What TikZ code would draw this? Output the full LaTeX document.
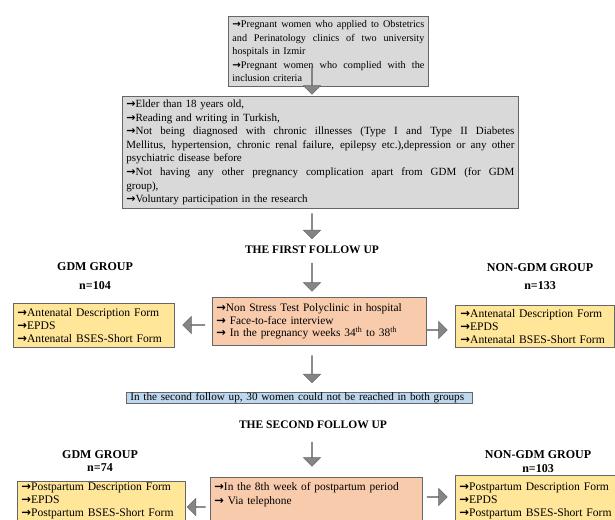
\documentclass[tikz,border=0pt]{standalone}
\usepackage{fontspec}
\setmainfont{Liberation Serif}
\newfontfamily\arrfont{DejaVu Sans}
\usetikzlibrary{shapes.arrows}
\definecolor{gbox}{HTML}{D9D9D9}
\definecolor{obox}{HTML}{F8CBAD}
\definecolor{ybox}{HTML}{FFE699}
\definecolor{bbox}{HTML}{BDD7EE}
\definecolor{bord}{HTML}{666666}
\definecolor{arrfill}{HTML}{858585}
\newcommand\ar{{\arrfont\bfseries →}}
\newcommand\jl[2]{\makebox[#1][s]{\spaceskip=0.25em plus 3em minus 0.05em\relax #2}}
\begin{document}
\begin{tikzpicture}[x=1pt,y=-1pt,
  box/.style={draw=bord, line width=0.8pt, anchor=north west, inner xsep=4pt, inner ysep=2pt, align=left},
  fsmall/.style={font=\fontsize{10.2}{13.5}\selectfont},
  fmid/.style={font=\fontsize{11}{13.6}\selectfont},
  fbig/.style={font=\fontsize{11.2}{13}\selectfont},
  fyel/.style={font=\fontsize{11.6}{13}\selectfont},
  head/.style={font=\fontsize{11.5}{13}\bfseries\selectfont, inner sep=0pt},
  grp/.style={font=\fontsize{12}{13}\bfseries\selectfont, inner sep=0pt},
  darr/.style={single arrow, draw=bord, line width=0.5pt, fill=arrfill, minimum width=17pt, single arrow head extend=4.5pt, inner sep=0pt, shape border rotate=270, minimum height=#1},
  harr/.style={single arrow, draw=bord, line width=0.5pt, fill=arrfill, minimum width=17pt, single arrow head extend=4.5pt, inner sep=0pt, minimum height=#1},
]
\clip (0,0) rectangle (615,519);
\fill[white] (0,0) rectangle (615,519);

% top boxes
\node[box, fill=gbox, fsmall, text width=192pt, minimum height=70pt] (b1) at (228,16)
{\jl{192pt}{\ar Pregnant women who applied to Obstetrics}\\
 \jl{192pt}{and Perinatology clinics of two university}\\
 hospitals in Izmir\\
 \jl{192pt}{\ar Pregnant women who complied with the}\\
 inclusion criteria};

\node[box, fill=gbox, fmid, text width=388pt, minimum height=112pt] (b2) at (122,96)
{\ar Elder than 18 years old,\\
 \ar Reading and writing in Turkish,\\
 \jl{388pt}{\ar Not being diagnosed with chronic illnesses (Type I and Type II Diabetes}\\
 \jl{388pt}{Mellitus, hypertension, chronic renal failure, epilepsy etc.),depression or any other}\\
 psychiatric disease before\\
 \jl{388pt}{\ar Not having any other pregnancy complication apart from GDM (for GDM}\\
 group),\\
 \ar Voluntary participation in the research};

\node[darr=26pt] (a1) at (312,81) {};
\node[darr=25pt] (a2) at (312,226) {};
\node[head] (h1) at (312,250) {THE FIRST FOLLOW UP};
\node[darr=28pt] (a3) at (312,277) {};

% first follow up
\node[grp] (g1) at (95,267) {GDM GROUP};
\node[grp] (n1) at (95,286) {n=104};
\node[grp] (g2) at (540,268) {NON-GDM GROUP};
\node[grp] (n2) at (540,286) {n=133};

\node[box, fill=obox, font=\fontsize{11.4}{12.5}\selectfont, text width=206pt, minimum height=48pt] (o1) at (212,297)
{\ar Non Stress Test Polyclinic in hospital\\
 \ar{} Face-to-face interview\\
 \ar{} In the pregnancy weeks 34\textsuperscript{th} to 38\textsuperscript{th}};

\node[box, fill=ybox, fyel, text width=153pt, minimum height=44pt] (y1) at (13,303)
{\ar Antenatal Description Form\\ \ar EPDS\\ \ar Antenatal BSES-Short Form};
\node[box, fill=ybox, fyel, text width=149pt, inner xsep=5pt, minimum height=42pt] (y2) at (455,305)
{\ar Antenatal Description Form\\ \ar EPDS\\ \ar Antenatal BSES-Short Form};

\node[harr=22pt, shape border rotate=180] (l1) at (194,325) {};
\node[harr=20pt] (r1) at (437,330) {};

\node[darr=27pt] (a4) at (312,369) {};

\node[box, fill=bbox, fbig, text width=338pt, inner ysep=0.5pt] (bl) at (126,392)
{\mbox{In the second follow up, 30 women could not be reached in both groups}};

\node[head] (h2) at (313,425) {THE SECOND FOLLOW UP};
\node[darr=24pt] (a5) at (312,454) {};

% second follow up
\node[grp] (g3) at (100,455) {GDM GROUP};
\node[grp] (n3) at (100,468) {n=74};
\node[grp] (g4) at (538,455) {NON-GDM GROUP};
\node[grp] (n4) at (538,469) {n=103};

\node[box, fill=obox, font=\fontsize{11.4}{14}\selectfont, text width=204pt, inner ysep=5pt, text depth=40pt] (o2) at (210,477)
{\ar In the 8th week of postpartum period\\
 \ar{} Via telephone};

\node[box, fill=ybox, fyel, text width=160pt, inner ysep=1.5pt, text depth=40pt] (y3) at (17,481)
{\ar Postpartum Description Form\\ \ar EPDS\\ \ar Postpartum BSES-Short Form};
\node[box, fill=ybox, fyel, text width=162pt, inner ysep=7.5pt, text depth=40pt] (y4) at (455,475)
{\ar Postpartum Description Form\\ \ar EPDS\\ \ar Postpartum BSES-Short Form};

\node[harr=18pt, shape border rotate=180] (l2) at (196.5,507) {};
\node[harr=20pt] (r2) at (437,497) {};
\end{tikzpicture}
\end{document}
